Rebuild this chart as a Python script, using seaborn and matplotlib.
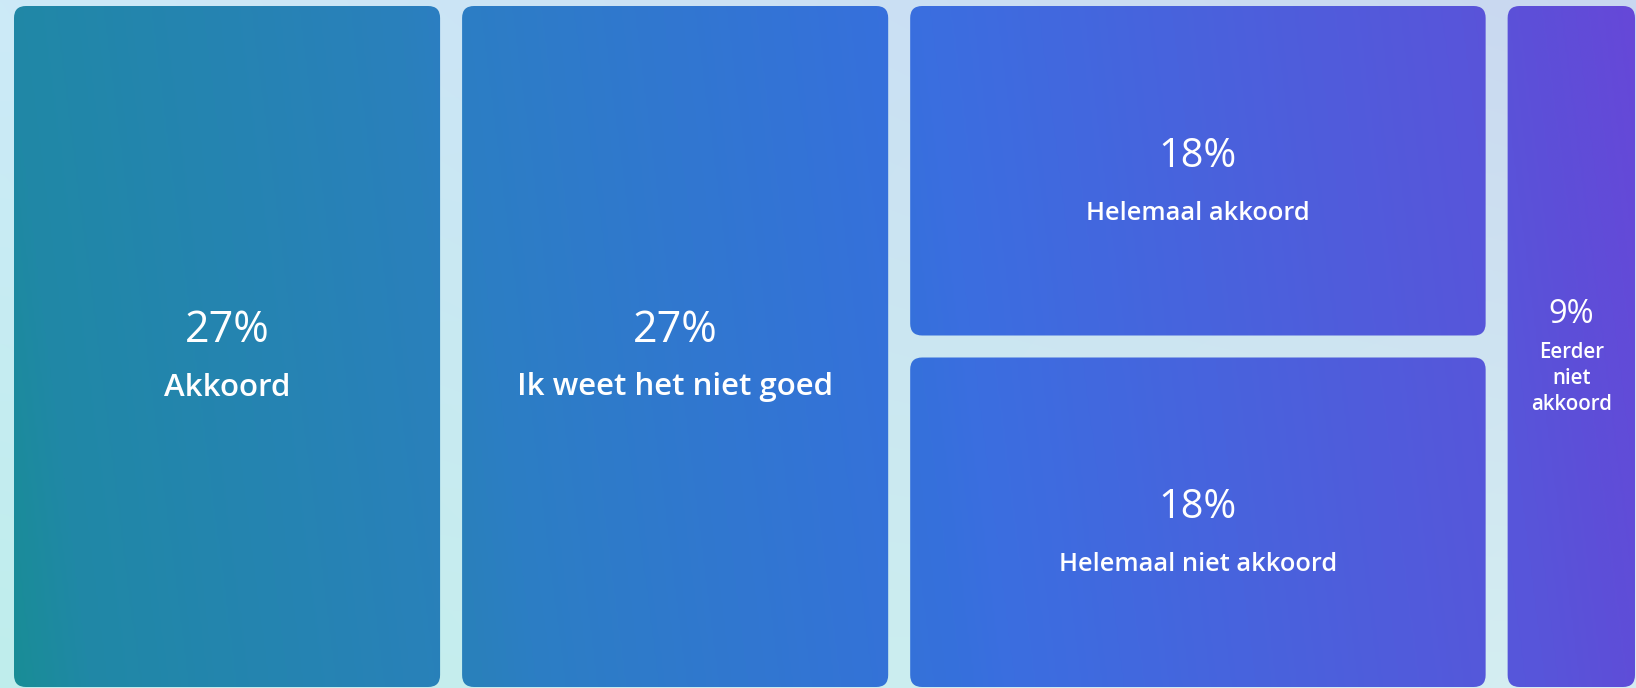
import numpy as np
import matplotlib
matplotlib.use("Agg")
import matplotlib.pyplot as plt
from matplotlib.patches import FancyBboxPatch
from matplotlib.colors import to_rgb, LinearSegmentedColormap
import seaborn as sns

# Survey answers and their shares (%)
categories = ["Akkoord", "Ik weet het niet goed", "Helemaal akkoord",
              "Helemaal niet akkoord", "Eerder niet akkoord"]
values = [27, 27, 18, 18, 9]
# Column grouping of the treemap (indices into categories)
columns = [[0], [1], [2, 3], [4]]

sns.set_theme(style="white")
plt.rcParams["font.family"] = ["Open Sans", "DejaVu Sans"]

W, H = 1636, 688
fig = plt.figure(figsize=(W / 100, H / 100), dpi=100)
ax = fig.add_axes([0, 0, 1, 1])
ax.set_xlim(0, W)
ax.set_ylim(H, 0)
ax.axis("off")

# Soft background wash
def corner_blend(tl, tr, bl, br, nx=200, ny=90):
    tl, tr, bl, br = (np.array(to_rgb(c)) for c in (tl, tr, bl, br))
    u = np.linspace(0, 1, nx)[None, :, None]
    v = np.linspace(0, 1, ny)[:, None, None]
    top = tl * (1 - u) + tr * u
    bot = bl * (1 - u) + br * u
    return top * (1 - v) + bot * v

bg = corner_blend("#cdeaf8", "#c9d7f0", "#bfeeec", "#d6eef2")
ax.imshow(bg, extent=(0, W, H, 0), aspect="auto", zorder=0, interpolation="bicubic")

# Tile fill: teal -> blue -> violet sweep across the whole chart
cmap = LinearSegmentedColormap.from_list("sweep", [
    (0.00, "#188e94"), (0.05, "#2088a6"), (0.28, "#2a80bc"),
    (0.31, "#2c7ec4"), (0.56, "#3670dc"), (0.59, "#3b6ee0"),
    (0.73, "#4863dd"), (0.90, "#5855da"), (0.94, "#5d4fd8"),
    (1.00, "#6648d8")])
gx = np.linspace(0, 1, 800)[None, :]
gy = np.linspace(0, 1, 200)[:, None]
t = np.clip(0.95 * gx + 0.05 * (1 - gy), 0, 1)
fill = cmap(t)

# Slice layout in pixel space
x0, y0, total_w, total_h = 3.0, -5.0, 1643.0, 703.0
pad = 11.0
radius = 12.0
total = float(sum(values))

x = x0
for col in columns:
    col_sum = sum(values[i] for i in col)
    cw = total_w * col_sum / total
    y = y0
    for i in col:
        ch = total_h * values[i] / col_sum
        rx, ry = x + pad, y + pad
        rw, rh = cw - 2 * pad, ch - 2 * pad
        patch = FancyBboxPatch((rx, ry), rw, rh,
                               boxstyle=f"round,pad=0,rounding_size={radius}",
                               facecolor="none", edgecolor="none", zorder=2)
        ax.add_patch(patch)
        im = ax.imshow(fill, extent=(0, W, H, 0), aspect="auto", zorder=1,
                       interpolation="bicubic")
        im.set_clip_path(patch)

        cx, cy = rx + rw / 2, ry + rh / 2
        pct = f"{values[i]}%"
        if rw > 300:
            tall = rh > 500
            ax.text(cx, cy - 4, pct, color="white", ha="center", va="baseline",
                    fontsize=31 if tall else 28.5, fontweight="medium", zorder=3)
            ax.text(cx, cy + 49, categories[i], color="white", ha="center",
                    va="baseline", fontsize=22.5 if tall else 18.3,
                    fontweight="semibold", zorder=3)
        else:
            ax.text(cx, cy - 23.5, pct, color="white", ha="center", va="baseline",
                    fontsize=23.5, fontweight="medium", zorder=3)
            for k, word in enumerate(categories[i].split()):
                ax.text(cx, cy + 11.5 + 26 * k, word, color="white", ha="center",
                        va="baseline", fontsize=14.8, fontweight="semibold", zorder=3)
        y += ch
    x += cw

fig.savefig("out.png", dpi=100)
